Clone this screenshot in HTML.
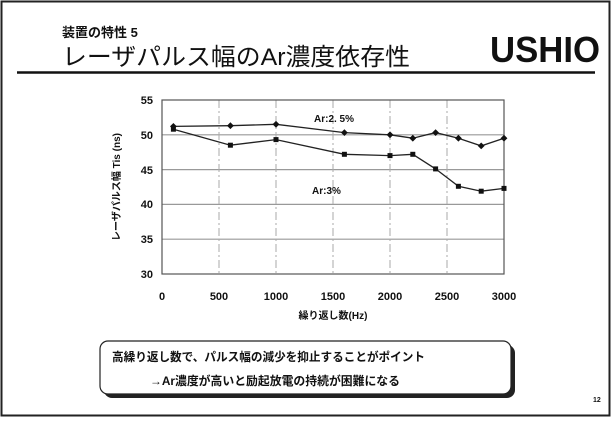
<!DOCTYPE html>
<html><head><meta charset="utf-8"><style>
body{margin:0;background:#fff;}
svg text{font-family:"Liberation Sans","Noto Sans CJK JP",sans-serif;fill:#111;}
</style></head><body>
<svg width="612" height="418" viewBox="0 0 612 418" xmlns="http://www.w3.org/2000/svg">
<rect x="0" y="0" width="612" height="418" fill="#fff"/>
<rect x="1.5" y="1.5" width="608" height="414" fill="none" stroke="#222" stroke-width="2"/>
<text x="62" y="37" font-size="13" font-weight="bold">装置の特性 5</text>
<text x="62" y="65" font-size="24" textLength="348" lengthAdjust="spacingAndGlyphs">レーザパルス幅のAr濃度依存性</text>
<text x="490" y="62" font-size="36" font-weight="bold" font-family="Liberation Sans,sans-serif" textLength="110" lengthAdjust="spacingAndGlyphs">USHIO</text>
<line x1="17" y1="72.5" x2="595" y2="72.5" stroke="#111" stroke-width="2.5"/>
<g stroke="#999" stroke-width="1.2">
<line x1="162" y1="134.8" x2="504" y2="134.8"/>
<line x1="162" y1="169.6" x2="504" y2="169.6"/>
<line x1="162" y1="204.4" x2="504" y2="204.4"/>
<line x1="162" y1="239.2" x2="504" y2="239.2"/>
</g>
<g stroke="#aaa" stroke-width="1" stroke-dasharray="8,3,2,3">
<line x1="219" y1="100" x2="219" y2="274"/>
<line x1="276" y1="100" x2="276" y2="274"/>
<line x1="333" y1="100" x2="333" y2="274"/>
<line x1="390" y1="100" x2="390" y2="274"/>
<line x1="447" y1="100" x2="447" y2="274"/>
</g>
<rect x="162" y="100" width="342" height="174" fill="none" stroke="#555" stroke-width="1.2"/>
<g font-size="11" text-anchor="end" font-weight="bold">
<text x="153" y="104">55</text><text x="153" y="139">50</text><text x="153" y="174">45</text>
<text x="153" y="208">40</text><text x="153" y="243">35</text><text x="153" y="278">30</text>
</g>
<g font-size="11" text-anchor="middle" font-weight="bold">
<text x="162" y="300">0</text><text x="219" y="300">500</text><text x="276" y="300">1000</text>
<text x="333" y="300">1500</text><text x="390" y="300">2000</text><text x="447" y="300">2500</text><text x="504" y="300">3000</text>
</g>
<text x="333" y="319" font-size="10" font-weight="bold" text-anchor="middle">繰り返し数(Hz)</text>
<text transform="translate(120,187) rotate(-90)" font-size="10" font-weight="bold" text-anchor="middle">レーザパルス幅 Tis (ns)</text>
<g fill="none" stroke="#222" stroke-width="1.3">
<polyline points="173.4,126.4 230.4,125.7 276,124.3 344.4,132.6 390,134.8 412.8,138.2 435.6,132.6 458.4,138.2 481.2,145.9 504,138.2"/>
<polyline points="173.4,129.2 230.4,145.2 276,139.6 344.4,154.3 390,155.6 412.8,154.3 435.6,168.9 458.4,186.3 481.2,191.2 504,188.4"/>
</g>
<g fill="#111">
<path d="M173.4,123 l3.4,3.4 l-3.4,3.4 l-3.4,-3.4z"/><path d="M230.4,122.3 l3.4,3.4 l-3.4,3.4 l-3.4,-3.4z"/><path d="M276,120.9 l3.4,3.4 l-3.4,3.4 l-3.4,-3.4z"/><path d="M344.4,129.2 l3.4,3.4 l-3.4,3.4 l-3.4,-3.4z"/><path d="M390,131.4 l3.4,3.4 l-3.4,3.4 l-3.4,-3.4z"/><path d="M412.8,134.8 l3.4,3.4 l-3.4,3.4 l-3.4,-3.4z"/><path d="M435.6,129.2 l3.4,3.4 l-3.4,3.4 l-3.4,-3.4z"/><path d="M458.4,134.8 l3.4,3.4 l-3.4,3.4 l-3.4,-3.4z"/><path d="M481.2,142.5 l3.4,3.4 l-3.4,3.4 l-3.4,-3.4z"/><path d="M504,134.8 l3.4,3.4 l-3.4,3.4 l-3.4,-3.4z"/>
<rect x="170.9" y="126.7" width="5" height="5"/><rect x="227.9" y="142.7" width="5" height="5"/><rect x="273.5" y="137.1" width="5" height="5"/><rect x="341.9" y="151.8" width="5" height="5"/><rect x="387.5" y="153.1" width="5" height="5"/><rect x="410.3" y="151.8" width="5" height="5"/><rect x="433.1" y="166.4" width="5" height="5"/><rect x="455.9" y="183.8" width="5" height="5"/><rect x="478.7" y="188.7" width="5" height="5"/><rect x="501.5" y="185.9" width="5" height="5"/>
</g>
<text x="314" y="122" font-size="10" font-weight="bold">Ar:2. 5%</text>
<text x="312" y="194" font-size="10" font-weight="bold">Ar:3%</text>
<rect x="104" y="345" width="411" height="53" rx="8" fill="#222"/>
<rect x="100" y="341" width="411" height="53" rx="8" fill="#fff" stroke="#222" stroke-width="1.2"/>
<text x="112" y="361" font-size="12" font-weight="bold" textLength="313" lengthAdjust="spacingAndGlyphs">高繰り返し数で、パルス幅の減少を抑止することがポイント</text>
<text x="150" y="385" font-size="12" font-weight="bold" textLength="250" lengthAdjust="spacingAndGlyphs">→Ar濃度が高いと励起放電の持続が困難になる</text>
<text x="593" y="402" font-size="7" font-weight="bold">12</text>
</svg>
</body></html>
